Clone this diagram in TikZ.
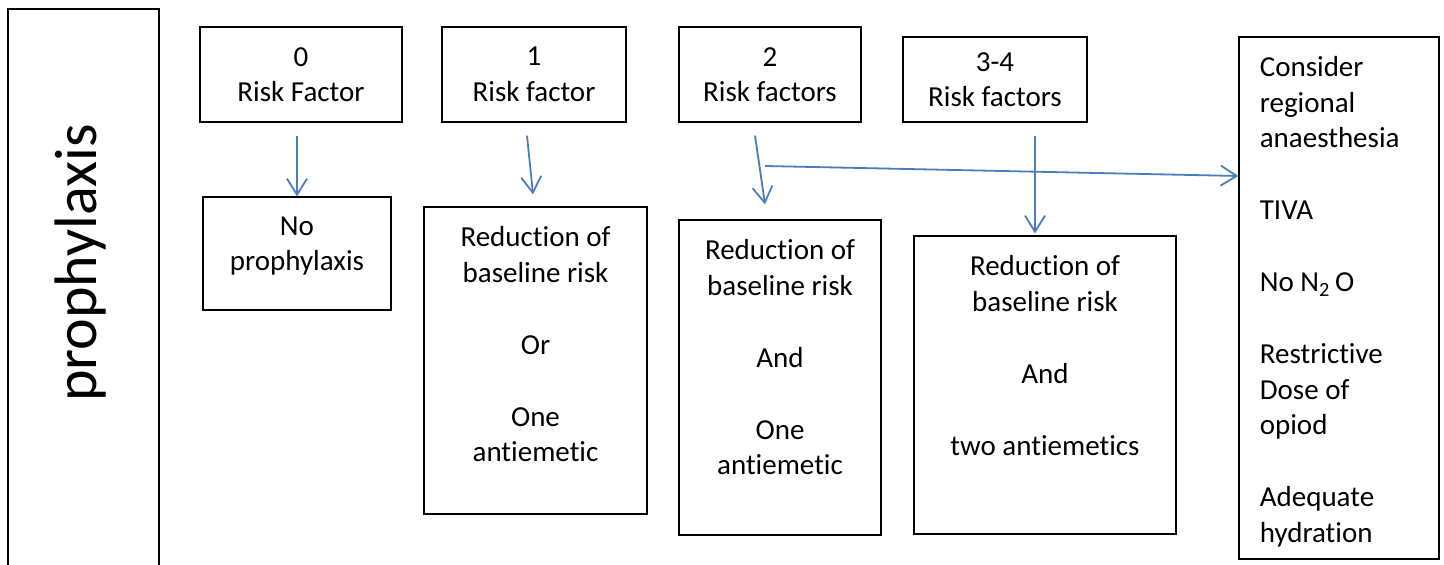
\documentclass[tikz,border=0pt]{standalone}
\usepackage{fontspec}
\setmainfont{Carlito}[Ligatures=NoCommon]
\usetikzlibrary{arrows.meta}
\definecolor{arrowblue}{HTML}{4A7EBB}
\newcommand{\skipline}{\\[18.25pt]}

\begin{document}
\begin{tikzpicture}[x=0.5pt,y=-0.5pt,
    box/.style={draw, line width=0.6pt, inner sep=0pt},
    txt/.style={font=\fontsize{14.5}{17.75}\selectfont, align=center, inner sep=0pt},
    arr/.style={draw=arrowblue, line width=0.9pt, -{Straight Barb[length=8pt,width=10pt]}}]
  \useasboundingbox (0,0) rectangle (1444,565);
  % side label
  \node[box, minimum width=75.5pt, minimum height=295.5pt] (side) at (83.5,304.5) {};
  \node[font=\fontsize{30}{36}\selectfont, rotate=90] (proph) at (81,263) {prophylaxis};
  % risk factor boxes
  \node[box, txt, minimum width=101pt, minimum height=47.5pt] (rf0) at (301,74.5) {0\\Risk Factor};
  \node[box, txt, minimum width=92pt, minimum height=47.5pt] (rf1) at (534,74.5) {1\\Risk factor};
  \node[box, txt, minimum width=91pt, minimum height=47.5pt] (rf2) at (770,74.5) {2\\Risk factors};
  \node[box, txt, minimum width=92pt, minimum height=42.5pt] (rf3) at (995,79.5) {3-4\\Risk factors};
  % outcome boxes
  \node[box, minimum width=94pt, minimum height=56.5pt] (np) at (297,253.5) {};
  \node[txt, anchor=north] (np-text) at ([yshift=-10pt]np.north) {No\\prophylaxis};
  \node[box, minimum width=111.5pt, minimum height=153.5pt] (red1) at (535.5,360.5) {};
  \node[txt, anchor=north] (red1-text) at ([yshift=-10pt]red1.north)
    {Reduction of\\baseline risk\skipline Or\skipline One\\antiemetic};
  \node[box, minimum width=101pt, minimum height=157.5pt] (red2) at (780,377.5) {};
  \node[txt, anchor=north] (red2-text) at ([yshift=-10pt]red2.north)
    {Reduction of\\baseline risk\skipline And\skipline One\\antiemetic};
  \node[box, minimum width=131pt, minimum height=149pt] (red3) at (1045,385) {};
  \node[txt, anchor=north] (red3-text) at ([yshift=-10pt]red3.north)
    {Reduction of\\baseline risk\skipline And\skipline two antiemetics};
  \node[box, minimum width=100pt, minimum height=261pt] (cons) at (1339,298) {};
  \node[txt, align=left, anchor=north west] (cons-text) at ([xshift=10.5pt,yshift=-10pt]cons.north west)
    {Consider\\regional\\anaesthesia\skipline TIVA\skipline No N\textsubscript{2}\,O\skipline
     Restrictive\\Dose of\\opiod\skipline Adequate\\hydration};
  % arrows
  \draw[arr] ([xshift=-2pt,yshift=-6.5pt]rf0.south) -- (np.north);
  \draw[arr] ([xshift=-3.5pt,yshift=-6.5pt]rf1.south) -- ([xshift=-1.25pt,yshift=6pt]red1.north);
  \draw[arr] ([xshift=-7.5pt,yshift=-6.5pt]rf2.south) -- ([xshift=-7.5pt,yshift=7.5pt]red2.north);
  \coordinate (split) at (765,166);
  \draw[arr] (split) -- ([yshift=61pt]cons.west);
  \draw[arr] ([xshift=20pt,yshift=-6.5pt]rf3.south) -- ([xshift=-5pt,yshift=1pt]red3.north);
\end{tikzpicture}
\end{document}
